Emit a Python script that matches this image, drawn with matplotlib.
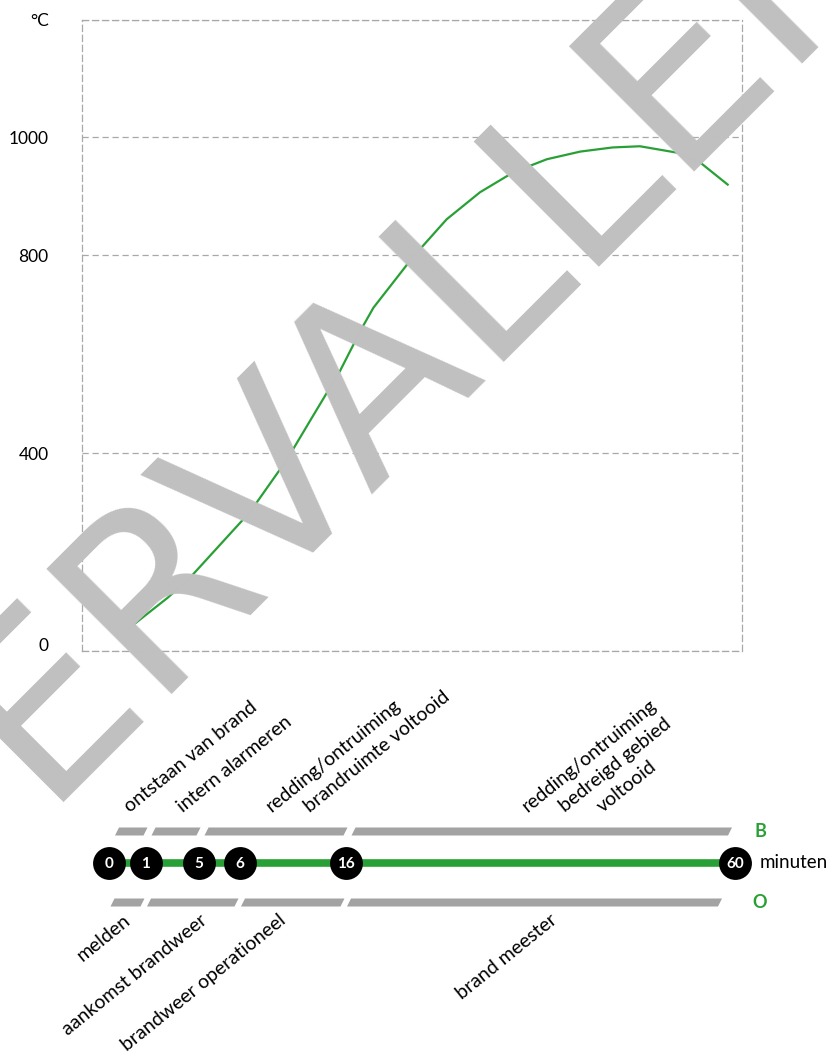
import numpy as np
import matplotlib.pyplot as plt
from matplotlib.scale import FuncScale
from matplotlib.transforms import ScaledTranslation

# temperature curve (minutes, degrees C)
curve_min = [1.8, 5.7, 7.9, 13.6, 17.1, 19.5, 22.2, 24.3, 25.4, 29.2, 32.4,
             35.6, 38.8, 42.0, 45.2, 48.3, 50.9, 54.5, 56.7, 59.3]
curve_temp = [42, 107, 149, 281, 386, 471, 566, 653, 694, 797, 861,
              907, 941, 963, 976, 983, 985, 974, 957, 920]

y_ticks = [0, 400, 800, 1000, 1200]
y_tick_labels = ['0', '400', '800', '1000', '°C']

# timeline
events = [0, 1, 5, 6, 16, 60]
upper_phases = [(0, 1), (1, 5), (5, 16), (16, 60)]
upper_labels = [["ontstaan van brand"],
                ["intern alarmeren"],
                ["redding/ontruiming", "brandruimte voltooid"],
                ["redding/ontruiming", "bedreigd gebied", "voltooid"]]
lower_phases = [(0, 1), (1, 6), (6, 16), (16, 60)]
lower_labels = ["melden", "aankomst brandweer",
                "brandweer operationeel", "brand meester"]

GREEN = '#29a035'
GREY = '#a3a3a3'
GRID = '#a8a8a8'
FONT = 'Lato'

W, H = 834, 1055
fig = plt.figure(figsize=(W / 100, H / 100), dpi=100)
plt.rcParams['font.family'] = [FONT, 'DejaVu Sans']


def rect(x0, y0, x1, y1):
    # pixel box (top-left origin) -> figure fraction
    return [x0 / W, 1 - y1 / H, (x1 - x0) / W, (y1 - y0) / H]


# ---- temperature chart ----
def t_fwd(y):
    y = np.asarray(y, float)
    return np.where(y <= 800, y, 800 + (y - 800) * 1.193)


def t_inv(v):
    v = np.asarray(v, float)
    return np.where(v <= 800, v, 800 + (v - 800) / 1.193)


ax1 = fig.add_axes(rect(82, 19.5, 741.7, 650.7))
ax1.set_yscale(FuncScale(ax1.yaxis, (t_fwd, t_inv)))
ax1.set_ylim(0, 1200)
ax1.set_xlim(-26 / 10.45, 633.7 / 10.45)
ax1.plot(curve_min, curve_temp, color=GREEN, lw=1.6)
ax1.set_yticks(y_ticks)
ax1.set_yticklabels(y_tick_labels)
ax1.set_xticks([])
ax1.tick_params(axis='y', length=0, pad=24, labelsize=12.5)
ax1.yaxis.grid(True, linestyle=(0, (5, 3)), color=GRID, lw=0.9)
for sp in ax1.spines.values():
    sp.set_linestyle((0, (5, 3)))
    sp.set_color(GRID)
    sp.set_linewidth(0.9)
lab0 = ax1.get_yticklabels()[0]
lab0.set_transform(lab0.get_transform()
                   + ScaledTranslation(0, 6 / 100, fig.dpi_scale_trans))

# ---- timeline ----
AX2_W = 735 - 109
stop_pos = (np.array([109, 145.5, 198.5, 239.5, 345.5, 735]) - 109) / AX2_W


def m_fwd(m):
    return np.interp(m, events, stop_pos)


def m_inv(p):
    return np.interp(p, stop_pos, events)


def shift(m, dpx):
    return float(m_inv(m_fwd(m) + dpx / AX2_W))


ax2 = fig.add_axes(rect(109, 803, 735, 923))
ax2.set_xscale(FuncScale(ax2.xaxis, (m_fwd, m_inv)))
ax2.set_xlim(0, 60)
ax2.set_ylim(-60, 60)
ax2.axis('off')

ax2.plot([events[0], events[-1]], [0, 0], color=GREEN, lw=5.5,
         solid_capstyle='butt', zorder=1, clip_on=False)
ax2.scatter(events, [0] * len(events), s=560, color='black', zorder=2,
            clip_on=False, linewidths=0)
for e in events:
    ax2.text(e, 0, str(e), color='white', fontsize=11, fontweight='bold',
             ha='center', va='center_baseline', zorder=3)


def bar(a, b, yc, s0, e0, slant=4, h=8):
    xs = [shift(a, s0), shift(b, e0), shift(b, e0 + slant), shift(a, s0 + slant)]
    ys = [yc - h / 2, yc - h / 2, yc + h / 2, yc + h / 2]
    ax2.fill(xs, ys, color=GREY, lw=0, clip_on=False)


def mid_of(a, b):
    return float(m_inv((m_fwd(a) + m_fwd(b)) / 2))


UP_Y, LO_Y = 31.5, -39.5
ANG = 39
upper_dx = [3, 11, 0, -13]
upper_end = [-2, -2, -2, -7]
for (a, b), lines, dx, e0 in zip(upper_phases, upper_labels, upper_dx, upper_end):
    bar(a, b, UP_Y, 6, e0)
    for i, line in enumerate(lines):
        ax2.annotate(line, xy=(mid_of(a, b), UP_Y), xytext=(dx + i * 38, 18.5),
                     textcoords='offset pixels', rotation=ANG,
                     rotation_mode='anchor', ha='left', va='baseline',
                     fontsize=14)

lower_dx = [-4, 7, -14, 9]
lower_end = [-5, -5, -5, -17]
for (a, b), label, dx, e0 in zip(lower_phases, lower_labels, lower_dx, lower_end):
    bar(a, b, LO_Y, 1.5, e0)
    ax2.annotate(label, xy=(mid_of(a, b), LO_Y), xytext=(dx, -9),
                 textcoords='offset pixels', rotation=ANG,
                 rotation_mode='anchor', ha='right', va='top', fontsize=14)

ax2.annotate('minuten', xy=(60, 0), xytext=(25, 0), textcoords='offset pixels',
             ha='left', va='center', fontsize=13.5)
ax2.annotate('B', xy=(60, UP_Y), xytext=(25, 0), textcoords='offset pixels',
             ha='center', va='center', fontsize=13, fontweight='bold',
             color=GREEN)
ax2.annotate('O', xy=(60, LO_Y), xytext=(25, 0), textcoords='offset pixels',
             ha='center', va='center', fontsize=13, fontweight='bold',
             color=GREEN)

# watermark
fig.text(421 / W, 1 - 442 / H, 'VERVALLEN', family='DejaVu Sans',
         fontsize=174, rotation=45, rotation_mode='anchor', ha='center',
         va='baseline', color='#c0c0c0', zorder=10)

fig.savefig('out.png', dpi=100)
